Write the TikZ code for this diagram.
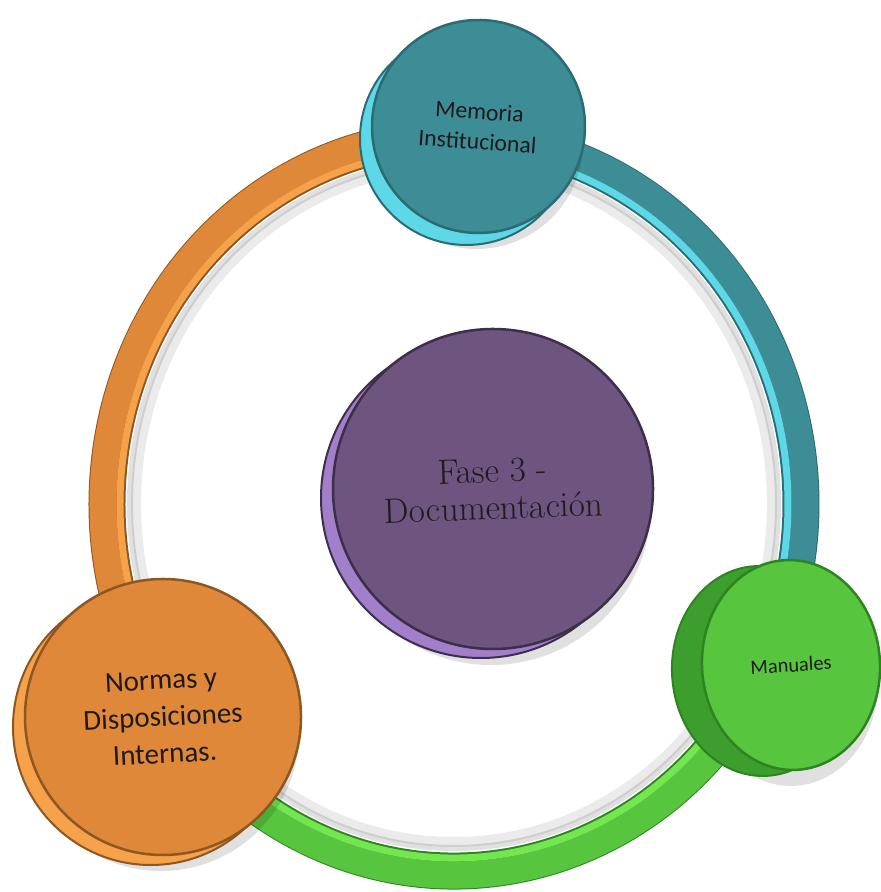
\documentclass[tikz,border=0pt]{standalone}
\usepackage{fontspec}
\newfontfamily\labelfont{Carlito}
\usetikzlibrary{shapes.geometric}

\definecolor{tealface}{HTML}{3C8D96}
\definecolor{tealrim}{HTML}{5ED8E6}
\definecolor{tealdark}{HTML}{2B6C73}
\definecolor{purpleface}{HTML}{6D5580}
\definecolor{purplerim}{HTML}{A27FCB}
\definecolor{purpledark}{HTML}{3D2E4A}
\definecolor{orangeface}{HTML}{E08839}
\definecolor{orangerim}{HTML}{F6A24B}
\definecolor{orangedark}{HTML}{8E5620}
\definecolor{greenface}{HTML}{57C53D}
\definecolor{greenrim}{HTML}{74E64F}
\definecolor{greenside}{HTML}{3C9E2C}
\definecolor{greendark}{HTML}{2E8420}
\definecolor{textdark}{HTML}{1E1A20}

\begin{document}
\begin{tikzpicture}[x=0.2mm, y=0.2mm,
    disc/.style={circle, inner sep=0pt, align=center, text=textdark, line width=0.5mm},
    rim/.style n args={3}{preaction={fill=#1, draw=#2, line width=0.4mm,
        transform canvas={shift={(#3)}}}},
    drop/.style={preaction={fill=black, opacity=.12, transform canvas={shift={(-2,-16)}}}}]
  \useasboundingbox (0,0) rectangle (880,892);
  \coordinate (ring) at (454,388);

  % shadow inside the ring
  \draw [line width=2mm, black, opacity=.08] (ring) ellipse [x radius=318, y radius=338];
  \draw [line width=1.2mm, black, opacity=.12] (ring) ellipse [x radius=324, y radius=344];

  % ring, one arc for each disc
  \foreach \a/\b/\base/\lite/\dark in {86/-24.3/tealface/tealrim/tealdark,
      -24.3/-145.3/greenface/greenrim/greendark,
      214.7/86/orangeface/orangerim/orangedark} {
    \draw [line width=7.4mm, \dark] (ring) ++(\a:347 and 367)
      arc [start angle=\a, end angle=\b, x radius=347, y radius=367];
    \draw [line width=5.4mm, \base] (ring) ++(\a:351 and 371)
      arc [start angle=\a, end angle=\b, x radius=351, y radius=371];
    \draw [line width=1.4mm, \lite] (ring) ++(\a:334 and 354)
      arc [start angle=\a, end angle=\b, x radius=334, y radius=354];
  }

  % Fase 3
  \node [disc, minimum size=64mm, fill=purpleface, draw=purpledark, drop,
    rim={purplerim}{purpledark}{-12,-9}, font=\fontsize{20}{21}\selectfont,
    rotate=2] (fase) at (493,403) {Fase 3 -\\Documentación};

  % Memoria
  \node [disc, minimum size=42.6mm, fill=tealface, draw=tealdark, drop,
    rim={tealrim}{tealdark}{-12,-12}, font=\labelfont\fontsize{13.5}{17}\selectfont,
    rotate=-4] (mem) at (478.5,765.5) {Memoria\\Institucional};

  % Normas
  \node [disc, minimum size=55.2mm, fill=orangeface, draw=orangedark, drop,
    rim={orangerim}{orangedark}{-12,-10}, font=\labelfont\fontsize{16.5}{21}\selectfont,
    rotate=3] (normas) at (163,175) {Normas y\\Disposiciones\\Internas.};

  % Manuales
  \node [ellipse, inner sep=0pt, minimum width=35.6mm, minimum height=42mm,
    fill=greenface, draw=greendark, line width=0.5mm, text=textdark, drop,
    rim={greenside}{greendark}{-30,-6}, font=\labelfont\fontsize{11.6}{14}\selectfont,
    rotate=3.5] (man) at (791,227) {Manuales};
\end{tikzpicture}
\end{document}
